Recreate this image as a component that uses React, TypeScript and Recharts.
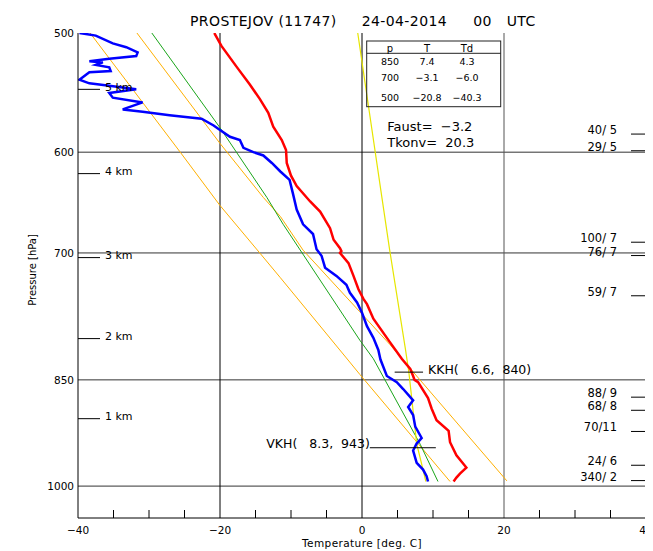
import React from 'react';
import { ComposedChart, Line, XAxis, YAxis, ReferenceLine } from 'recharts';

const FONT = '"DejaVu Sans", "Liberation Sans", sans-serif';

// Temperature profile (hPa, deg C)
const tempPressure = [500, 501, 510, 527, 541, 553, 565, 577, 589, 598, 610, 622, 632, 647, 657, 674, 686, 695, 698, 700, 711, 725, 740, 751, 757, 774, 802, 823, 836, 845, 850, 853, 874, 888, 904, 919, 935, 954, 972, 981, 987, 993];
const tempValues = [-20.8, -20.7, -19.8, -17.6, -15.8, -14.4, -13.2, -12.5, -11.3, -10.7, -10.6, -10.0, -9.2, -7.3, -5.9, -4.5, -4.0, -3.1, -2.9, -3.1, -1.9, -1.2, -0.5, 0.2, 0.7, 1.6, 3.9, 5.6, 6.8, 7.2, 7.4, 7.9, 9.3, 9.8, 10.5, 12.2, 12.4, 13.3, 14.7, 13.8, 13.3, 12.9];

// Dew point profile
const dewPressure = [500, 502, 508, 511, 515, 518, 520, 522, 523, 525, 527, 530, 531, 537, 540, 542, 545, 548, 552, 556, 562, 564, 567, 570, 576, 580, 586, 589, 596, 600, 603, 610, 618, 626, 640, 655, 670, 680, 696, 703, 716, 725, 735, 744, 755, 767, 783, 797, 812, 824, 845, 853, 862, 877, 886, 897, 913, 929, 937, 947, 965, 975, 985, 993];
const dewValues = [-39.8, -37.5, -35.1, -33.2, -31.6, -31.8, -35.6, -38.4, -36.5, -37.5, -35.6, -35.4, -38.4, -39.8, -38.4, -35.6, -31.8, -35.6, -35.1, -30.9, -33.7, -30.9, -27.1, -22.6, -20.9, -20.0, -18.6, -17.2, -16.7, -15.3, -13.9, -12.7, -11.5, -10.2, -9.7, -9.2, -8.3, -6.9, -6.4, -5.7, -5.2, -3.6, -2.2, -1.7, -0.7, 0.0, 0.7, 1.6, 2.3, 2.6, 3.5, 4.9, 5.8, 7.2, 6.5, 7.2, 7.5, 8.4, 7.7, 7.2, 7.7, 8.6, 9.1, 9.3];

// Moist adiabat (green)
const moistPressure = [500, 578, 643, 670, 800, 823, 938, 993];
const moistValues = [-29.6, -20.0, -13.4, -11.1, -0.3, 1.6, 8.2, 10.7];

// Dry adiabat from surface temperature (orange, left)
const dryAPressure = [500, 600, 651, 700, 727, 822, 843, 993];
const dryAValues = [-38.3, -25.6, -20.0, -14.4, -11.5, -2.2, -0.3, 12.4];

// Dry adiabat from convective temperature (orange, right)
const dryBPressure = [500, 592, 643, 662, 697, 766, 805, 845, 992];
const dryBValues = [-31.7, -20.0, -13.9, -11.5, -8.3, -0.3, 3.9, 7.7, 20.4];

// Mixing ratio line (yellow)
const mixPressure = [500, 643, 697, 810, 840, 937, 993];
const mixValues = [-0.6, 2.8, 3.9, 6.1, 6.6, 7.7, 9.0];

const pressureTicks = [500, 600, 700, 850, 1000];
const gridPressures = [600, 700, 850, 1000];
const tempTicks = [-40, -35, -30, -25, -20, -15, -10, -5, 0, 5, 10, 15, 20, 25, 30, 35, 40];
const tempLabelTicks = [-40, -20, 0, 20, 40];

const kmPressure = [545, 620, 705, 798, 902];
const kmLabels = ['5 km', '4 km', '3 km', '2 km', '1 km'];

const windPressure = [583.6, 598.7, 688.6, 702.8, 747.4, 872.8, 890.5, 919.8, 968.6, 991.6];
const windLabels = ['40/ 5', '29/ 5', '100/ 7', '76/ 7', '59/ 7', '88/ 9', '68/ 8', '70/11', '24/ 6', '340/ 2'];

const tableLevels = ['850', '700', '500'];
const tableT = ['7.4', '\u22123.1', '\u221220.8'];
const tableTd = ['4.3', '\u22126.0', '\u221240.3'];

const kkhT = 6.6;
const kkhP = 840;
const vkhT = 8.3;
const vkhP = 943;
const faust = '\u22123.2';
const tkonv = '20.3';

const W = 645;
const H = 543;

const toPoints = (ps: number[], ts: number[]) => ps.map((p, i) => ({ p, t: ts[i] }));
const tempData = toPoints(tempPressure, tempValues);
const dewData = toPoints(dewPressure, dewValues);
const moistData = toPoints(moistPressure, moistValues);
const dryAData = toPoints(dryAPressure, dryAValues);
const dryBData = toPoints(dryBPressure, dryBValues);
const mixData = toPoints(mixPressure, mixValues);

const fmt = (v: number) => String(v).replace('-', '\u2212');
const NB = '\u00A0';

const BottomTick = (props: any) => {
  const { x, y, payload } = props;
  const v = payload.value;
  if (tempLabelTicks.includes(v)) {
    return (
      <text x={x} y={y + 12} textAnchor="middle" dominantBaseline="central" fontSize={10.5} fontFamily={FONT} fill="#000">
        {fmt(v)}
      </text>
    );
  }
  return <line x1={x} x2={x} y1={y} y2={y - 8} stroke="#000" strokeWidth={1} />;
};

const TopTick = (props: any) => {
  const { x, y, payload } = props;
  const v = payload.value;
  if (tempLabelTicks.includes(v)) return <g />;
  return <line x1={x} x2={x} y1={y} y2={y + 8} stroke="#000" strokeWidth={1} />;
};

const LeftTick = (props: any) => {
  const { x, y, payload } = props;
  const v = payload.value;
  const ki = kmPressure.indexOf(v);
  if (ki >= 0) {
    return (
      <g>
        <line x1={x} x2={x + 22} y1={y} y2={y} stroke="#000" strokeWidth={1} />
        <text x={x + 27} y={y - 2} dominantBaseline="central" fontSize={11} fontFamily={FONT} fill="#000">
          {kmLabels[ki]}
        </text>
      </g>
    );
  }
  return (
    <text x={x - 4} y={y} textAnchor="end" dominantBaseline="central" fontSize={10.5} fontFamily={FONT} fill="#000">
      {v}
    </text>
  );
};

const RightTick = (props: any) => {
  const { x, y, payload } = props;
  const i = windPressure.indexOf(payload.value);
  return (
    <g>
      <line x1={x - 15} x2={x} y1={y} y2={y} stroke="#000" strokeWidth={1} />
      <text x={x - 29} y={y - 4} textAnchor="end" dominantBaseline="central" fontSize={11.5} fontFamily={FONT} fill="#000" style={{ whiteSpace: 'pre' }}>
        {windLabels[i]}
      </text>
    </g>
  );
};

const yAxisCommon = {
  type: 'number' as const,
  scale: 'log' as const,
  domain: [500, 1050],
  reversed: true,
  allowDataOverflow: true,
  interval: 0 as const,
  tickSize: 0,
  tickMargin: 0,
  tickLine: false,
};

export default function App() {
  const textStyle = { fontFamily: FONT, fill: '#000' };
  return (
    <div style={{ position: 'relative', width: W, height: H }}>
      <ComposedChart width={W} height={H} margin={{ top: 25, right: 0, bottom: 0, left: 0 }}>
        <XAxis
          dataKey="t"
          type="number"
          domain={[-40, 40]}
          allowDataOverflow
          ticks={tempTicks}
          interval={0}
          height={33}
          tickSize={0}
          tickMargin={0}
          tickLine={false}
          axisLine={{ stroke: '#000', strokeWidth: 1 }}
          tick={BottomTick}
        />
        <XAxis
          xAxisId="top"
          orientation="top"
          dataKey="t"
          type="number"
          domain={[-40, 40]}
          allowDataOverflow
          ticks={tempTicks}
          interval={0}
          height={0}
          tickSize={0}
          tickMargin={0}
          tickLine={false}
          axisLine={{ stroke: '#222', strokeWidth: 1 }}
          tick={TopTick}
        />
        <YAxis
          {...yAxisCommon}
          dataKey="p"
          width={70}
          ticks={[...pressureTicks, ...kmPressure].sort((a, b) => a - b)}
          axisLine={{ stroke: '#000', strokeWidth: 1 }}
          tick={LeftTick}
        />
        <YAxis
          {...yAxisCommon}
          yAxisId="wind"
          orientation="right"
          width={7}
          ticks={windPressure}
          axisLine={{ stroke: '#444', strokeWidth: 1 }}
          tick={RightTick}
        />
        {gridPressures.map((p) => (
          <ReferenceLine key={'h' + p} y={p} stroke="#333" strokeWidth={1} />
        ))}
        <ReferenceLine x={-20} stroke="#000" strokeWidth={1} />
        <ReferenceLine x={0} stroke="#000" strokeWidth={1} />
        <ReferenceLine x={20} stroke="#555" strokeWidth={1} />

        <Line data={dryAData} dataKey="p" type="linear" stroke="#ffb000" strokeWidth={1} dot={false} isAnimationActive={false} />
        <Line data={dryBData} dataKey="p" type="linear" stroke="#ffb000" strokeWidth={1} dot={false} isAnimationActive={false} />
        <Line data={moistData} dataKey="p" type="linear" stroke="#1aa51a" strokeWidth={1} dot={false} isAnimationActive={false} />
        <Line data={mixData} dataKey="p" type="linear" stroke="#e6e600" strokeWidth={1.2} dot={false} isAnimationActive={false} />
        <Line data={dewData} dataKey="p" type="linear" stroke="#0000ff" strokeWidth={2.5} dot={false} isAnimationActive={false} />
        <Line data={tempData} dataKey="p" type="linear" stroke="#ff0000" strokeWidth={2.5} dot={false} isAnimationActive={false} />

        <ReferenceLine
          segment={[{ x: kkhT - 2, y: kkhP }, { x: kkhT + 2, y: kkhP }]}
          stroke="#000"
          strokeWidth={1}
          label={(props: any) => {
            const vb = props.viewBox;
            return (
              <text x={vb.x + vb.width + 5} y={vb.y - 3} dominantBaseline="central" fontSize={12.5} fontFamily={FONT} fill="#000" style={{ whiteSpace: 'pre' }}>
                {`KKH(${NB}${NB}${NB}${kkhT},${NB}${NB}${kkhP})`}
              </text>
            );
          }}
        />
        <ReferenceLine
          segment={[{ x: 1.1, y: vkhP }, { x: 10.4, y: vkhP }]}
          stroke="#000"
          strokeWidth={1}
          label={(props: any) => {
            const vb = props.viewBox;
            return (
              <text x={vb.x} y={vb.y - 4} textAnchor="end" dominantBaseline="central" fontSize={12.5} fontFamily={FONT} fill="#000" style={{ whiteSpace: 'pre' }}>
                {`VKH(${NB}${NB}${NB}${vkhT},${NB}${NB}${vkhP})`}
              </text>
            );
          }}
        />
      </ComposedChart>
      <svg width={W} height={H} style={{ position: 'absolute', left: 0, top: 0, pointerEvents: 'none' }}>
        <g style={textStyle as any}>
          <text x={182} y={13} dominantBaseline="central" fontSize={14} letterSpacing={0.4}>PROSTEJOV (11747)</text>
          <text x={353.7} y={13} dominantBaseline="central" fontSize={14} letterSpacing={0.4}>24-04-2014</text>
          <text x={465.3} y={13} dominantBaseline="central" fontSize={14} letterSpacing={0.4}>00</text>
          <text x={498.7} y={13} dominantBaseline="central" fontSize={14} letterSpacing={0.4}>UTC</text>

          <rect x={358.7} y={33} width={134} height={65.7} fill="none" stroke="#222" strokeWidth={1} />
          <line x1={358.7} x2={492.7} y1={45.3} y2={45.3} stroke="#222" strokeWidth={1} />
          <text x={382} y={40} textAnchor="middle" dominantBaseline="central" fontSize={10}>p</text>
          <text x={419} y={40} textAnchor="middle" dominantBaseline="central" fontSize={10}>T</text>
          <text x={459} y={40} textAnchor="middle" dominantBaseline="central" fontSize={10}>Td</text>
          {tableLevels.map((lv, i) => (
            <g key={lv}>
              <text x={382} y={[53, 69.3, 89.3][i]} textAnchor="middle" dominantBaseline="central" fontSize={9.5}>{lv}</text>
              <text x={419} y={[53, 69.3, 89.3][i]} textAnchor="middle" dominantBaseline="central" fontSize={9.5}>{tableT[i]}</text>
              <text x={459} y={[53, 69.3, 89.3][i]} textAnchor="middle" dominantBaseline="central" fontSize={9.5}>{tableTd[i]}</text>
            </g>
          ))}

          <text x={379.3} y={118} dominantBaseline="central" fontSize={13} style={{ whiteSpace: 'pre' }}>{`Faust=  ${faust}`}</text>
          <text x={379.3} y={134.7} dominantBaseline="central" fontSize={13} style={{ whiteSpace: 'pre' }}>{`Tkonv=  ${tkonv}`}</text>

          <text x={24} y={262} textAnchor="middle" dominantBaseline="central" fontSize={10} transform="rotate(-90 24 262)">Pressure [hPa]</text>
          <text x={354} y={535} textAnchor="middle" dominantBaseline="central" fontSize={10.5} letterSpacing={0.4}>Temperature [deg. C]</text>
        </g>
      </svg>
    </div>
  );
}
